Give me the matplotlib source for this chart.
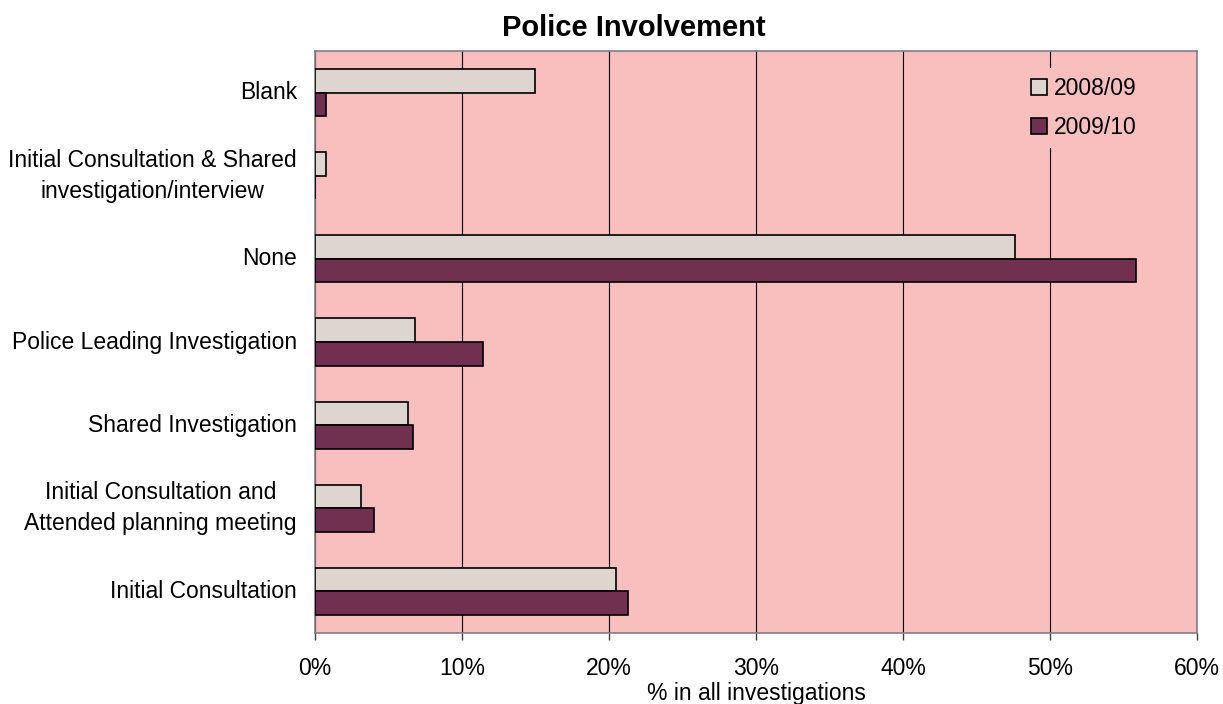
import matplotlib
matplotlib.use("Agg")
import matplotlib.pyplot as plt
import numpy as np
from matplotlib.patches import Patch
from matplotlib.ticker import FuncFormatter

plt.rcParams['font.family'] = ['Liberation Sans', 'DejaVu Sans']

categories = [
    "Blank",
    "Initial Consultation & Shared\ninvestigation/interview",
    "None",
    "Police Leading Investigation",
    "Shared Investigation",
    "Initial Consultation and\nAttended planning meeting",
    "Initial Consultation",
]
series_names = ["2008/09", "2009/10"]
values_2008 = [14.95, 0.75, 47.6, 6.8, 6.35, 3.1, 20.5]
values_2009 = [0.75, 0.0, 55.85, 11.4, 6.65, 4.0, 21.3]
x_ticks = [0, 10, 20, 30, 40, 50, 60]

bg_pink = "#F9BFBF"
light = "#DCD5D0"
dark = "#723050"
fs = 16.5

fig = plt.figure(figsize=(12.23, 7.04), dpi=100)
ax = fig.add_axes([315 / 1223, 1 - 633 / 704, (1197 - 315) / 1223, (633 - 51) / 704])
ax.set_facecolor(bg_pink)

y = np.arange(len(categories))
h = 0.283
ax.barh(y - h / 2, values_2008, height=h, color=light, edgecolor="black", linewidth=1.2, zorder=3)
ax.barh(y + h / 2, values_2009, height=h, color=dark, edgecolor="black", linewidth=1.2, zorder=3)

ax.set_ylim(len(categories) - 0.5, -0.5)
ax.set_xlim(0, 60)
ax.set_xticks(x_ticks)
ax.xaxis.set_major_formatter(FuncFormatter(lambda v, p: f"{int(v)}%"))
ax.set_yticks(y)
ax.set_yticklabels(categories)
for lbl in ax.get_yticklabels():
    lbl.set_multialignment("center")
    lbl.set_linespacing(1.45)
    lbl.set_verticalalignment("center")

ax.tick_params(axis="y", length=0, pad=13, labelsize=fs)
ax.tick_params(axis="x", length=5, width=1, color="#404040", pad=12, labelsize=fs)
ax.grid(axis="x", color="black", linewidth=0.8, zorder=1)
ax.set_axisbelow(True)
for s in ax.spines.values():
    s.set_color("#808080")
    s.set_linewidth(1.2)

ax.set_xlabel("% in all investigations", fontsize=fs, labelpad=2)

fig.text(634 / 1223, 1 - 28 / 704, "Police Involvement", fontsize=21, fontweight="bold",
         ha="center", va="center")

handles = [Patch(facecolor=light, edgecolor="black", linewidth=1.2),
           Patch(facecolor=dark, edgecolor="black", linewidth=1.2)]
leg = ax.legend(handles, series_names, loc="upper left",
                bbox_to_anchor=((1022 - 315) / 882, 1 - (68 - 51) / 582),
                fontsize=fs, frameon=True, facecolor=bg_pink, edgecolor="none",
                framealpha=1, fancybox=False, handlelength=0.7, handleheight=0.7,
                handletextpad=0.3, labelspacing=0.7, borderpad=0.4, borderaxespad=0)
leg.set_zorder(5)

fig.savefig("out.png", dpi=100)
